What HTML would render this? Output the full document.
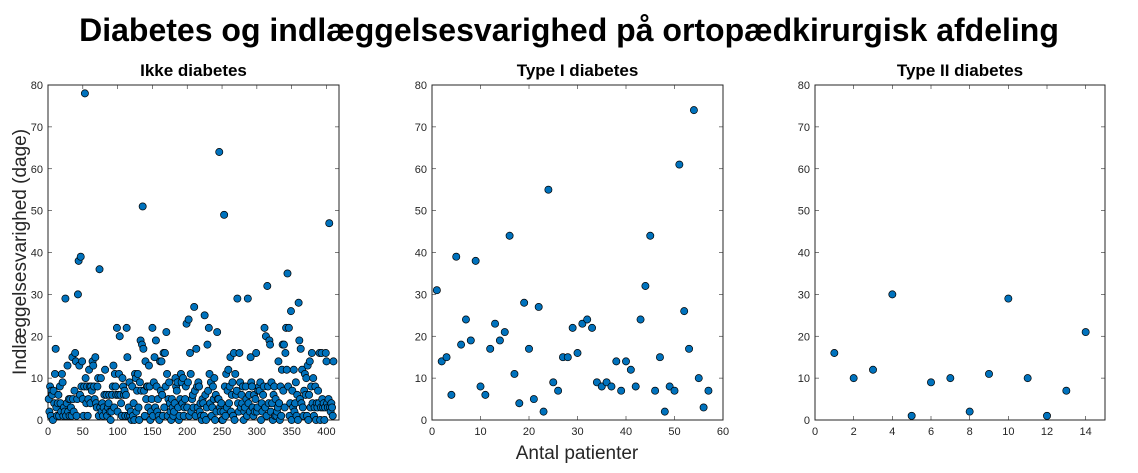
<!DOCTYPE html>
<html><head><meta charset="utf-8"><style>
body{margin:0;background:#fff;}
svg{display:block;font-family:"Liberation Sans",sans-serif;}
</style></head><body>
<svg id="chart" width="1138" height="473" viewBox="0 0 1138 473">
<text x="569" y="41" text-anchor="middle" font-size="32" font-weight="bold" fill="#000">Diabetes og indlæggelsesvarighed på ortopædkirurgisk afdeling</text>
<text transform="translate(26,252) rotate(-90)" text-anchor="middle" font-size="19" fill="#262626">Indlæggelsesvarighed (dage)</text>
<text x="577" y="459" text-anchor="middle" font-size="19" fill="#262626">Antal patienter</text>
</svg>
<script>
const noDiabetes = [
5,2,8,1,7,6,0,7,4,11, 17,3,1,4,6,1,8,4,2,11, 9,1,3,2,29,1,4,13,2,5, 1,5,3,1,15,5,2,7,16,14,
1,5,30,38,13,6,39,8,14,5, 1,8,78,10,4,8,1,5,12,8, 4,8,7,14,13,8,5,15,4,3, 8,10,1,36,3,10,2,4,1,3,
6,12,2,6,1,3,4,6,2,0, 2,6,8,13,3,11,8,6,22,2, 6,11,20,6,4,1,10,8,6,7, 1,6,22,15,1,3,9,1,2,0,
8,1,4,0,11,10,2,7,11,3, 0,9,19,7,18,51,17,7,1,14, 5,8,8,3,13,8,0,2,5,22, 1,9,15,3,19,8,2,5,1,0,
14,7,14,6,1,16,3,16,8,21, 11,1,5,9,4,2,0,5,3,1, 2,4,10,8,7,9,3,0,1,5, 11,9,4,10,1,3,5,8,23,3,
9,24,1,16,11,2,5,6,3,27, 7,1,17,8,3,9,8,2,4,1, 0,5,4,1,25,6,0,3,18,7, 22,11,4,9,1,3,8,5,10,0,
6,2,21,5,5,64,3,2,4,0, 0,2,49,8,1,11,3,7,12,4, 8,15,2,6,9,1,16,0,11,6, 7,29,4,2,16,9,3,6,4,8,
0,2,3,8,5,1,29,4,6,2, 15,9,8,3,1,6,2,5,16,2, 3,7,8,7,9,0,4,2,6,8, 22,3,20,1,32,8,4,19,18,2,
9,4,0,6,8,1,5,1,2,3, 14,4,0,8,1,12,18,7,18,3, 16,22,12,35,8,22,1,4,26,0, 7,3,12,2,4,9,1,6,0,28,
19,5,17,4,12,3,1,7,11,6, 10,1,13,0,6,14,3,8,16,4, 10,1,3,8,0,4,3,7,4,16, 0,3,16,5,3,4,0,3,16,14,
4,3,5,47,3,2,4,3,1,14];
const type1 = [31,14,15,6,39,18,24,19,38,8,6,17,23,19,21,44,11,4,28,17,5,27,2,55,9,7,15,15,22,16,23,24,22,9,8,9,8,14,7,14,12,8,24,32,44,7,15,2,8,7,61,26,17,74,10,3,7];
const type2 = [16,10,12,30,1,9,10,2,11,29,10,1,7,21];
const panelTitles = ["Ikke diabetes","Type I diabetes","Type II diabetes"];
const yTicks = [0,10,20,30,40,50,60,70,80];
const xTicks1 = [0,50,100,150,200,250,300,350,400];
const xTicks2 = [0,10,20,30,40,50,60];
const xTicks3 = [0,2,4,6,8,10,12,14];

const NS="http://www.w3.org/2000/svg";
const svg=document.getElementById('chart');
function mk(tag,attrs,parent){const e=document.createElementNS(NS,tag);for(const k in attrs)e.setAttribute(k,attrs[k]);(parent||svg).appendChild(e);return e;}
const panels=[
 {data:noDiabetes,x0:48,x1:339,xmax:418,ticks:xTicks1,key:'ikke-diabetes'},
 {data:type1,x0:432,x1:723,xmax:60,ticks:xTicks2,key:'type-1'},
 {data:type2,x0:815,x1:1105,xmax:15,ticks:xTicks3,key:'type-2'}];
const yTop=85,yBot=420;
panels.forEach((p,pi)=>{
 const g=mk('g',{});
 
 
 const sx=v=>p.x0+(p.x1-p.x0)*v/p.xmax;
 const sy=v=>yBot-(yBot-yTop)*v/80;
 const t=mk('text',{x:(p.x0+p.x1)/2,y:76,'text-anchor':'middle','font-size':17,'font-weight':'bold',fill:'#000'},g);
 t.textContent=panelTitles[pi];
 
 
 yTicks.forEach(v=>{
  const y=sy(v);
  mk('line',{x1:p.x0,x2:p.x0+4,y1:y,y2:y,stroke:'#262626','stroke-width':0.6},g);
  mk('line',{x1:p.x1,x2:p.x1-4,y1:y,y2:y,stroke:'#262626','stroke-width':0.6},g);
  const l=mk('text',{x:p.x0-5,y:y+4,'text-anchor':'end','font-size':11,fill:'#262626'},g);
  l.textContent=v;
  
  
 });
 p.ticks.forEach(v=>{
  const x=sx(v);
  mk('line',{x1:x,x2:x,y1:yBot,y2:yBot-4,stroke:'#262626','stroke-width':0.6},g);
  mk('line',{x1:x,x2:x,y1:yTop,y2:yTop+4,stroke:'#262626','stroke-width':0.6},g);
  const l=mk('text',{x:x,y:yBot+15,'text-anchor':'middle','font-size':11,fill:'#262626'},g);
  l.textContent=v;
  
  
 });
 const box=mk('rect',{x:p.x0,y:yTop,width:p.x1-p.x0,height:yBot-yTop,fill:'none',stroke:'#262626','stroke-width':1},g);
 
 
 p.data.forEach((v,i)=>{
  const c=mk('circle',{cx:sx(i+1),cy:sy(v),r:3.6,fill:'#0072BD',stroke:'#000','stroke-width':0.7},g);
  
  
 });
});
</script>
</body></html>
